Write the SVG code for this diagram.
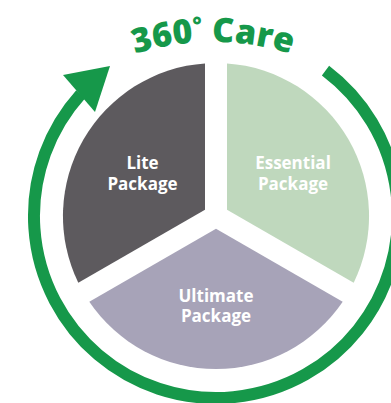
<svg xmlns="http://www.w3.org/2000/svg" xmlns:xlink="http://www.w3.org/1999/xlink" width="391" height="403" viewBox="0 0 391 403">
  <style>
    .label { font-family: "Open Sans", "Liberation Sans", sans-serif; font-weight: 700; font-size: 17px; fill: #ffffff; text-anchor: middle; }
    .title { font-family: "Open Sans", "Liberation Sans", sans-serif; font-weight: 800; font-size: 34px; fill: #16984a; }
    .ring { fill: none; stroke: #16984a; stroke-width: 12; }
  </style>
  <defs>
    <path id="titlePath" d="M 103 66.4 A 260 260 0 0 1 323 66.4"/>
  </defs>
  <rect width="391" height="403" fill="#ffffff"/>
  <g id="connectors">
    <path class="ring" d="M 325.5 70.6 A 182 182 0 1 1 80.7 94.2"/>
    <polygon points="63,75 110,66 95,112" fill="#16984a"/>
  </g>
  <g id="title">
    <text class="title"><textPath xlink:href="#titlePath" href="#titlePath" startOffset="50%" text-anchor="middle">360<tspan dy="-10" font-size="22">°</tspan><tspan dy="10"> Care</tspan></textPath></text>
  </g>
  <g id="slice-lite">
    <path d="M 205 209.65 L 205 63.4 A 153 153 0 0 0 78.3 282.8 Z" fill="#5d5a5e"/>
    <text class="label" x="142.5" y="169">Lite</text>
    <text class="label" x="142.5" y="190">Package</text>
  </g>
  <g id="slice-essential">
    <path d="M 227 209.65 L 227 63.4 A 153 153 0 0 1 353.7 282.8 Z" fill="#bfd8bd"/>
    <text class="label" x="293" y="169">Essential</text>
    <text class="label" x="293" y="190">Package</text>
  </g>
  <g id="slice-ultimate">
    <path d="M 216 228.7 L 89.3 301.8 A 153 153 0 0 0 342.7 301.8 Z" fill="#a7a3b8"/>
    <text class="label" x="216" y="302">Ultimate</text>
    <text class="label" x="216" y="322">Package</text>
  </g>
</svg>
